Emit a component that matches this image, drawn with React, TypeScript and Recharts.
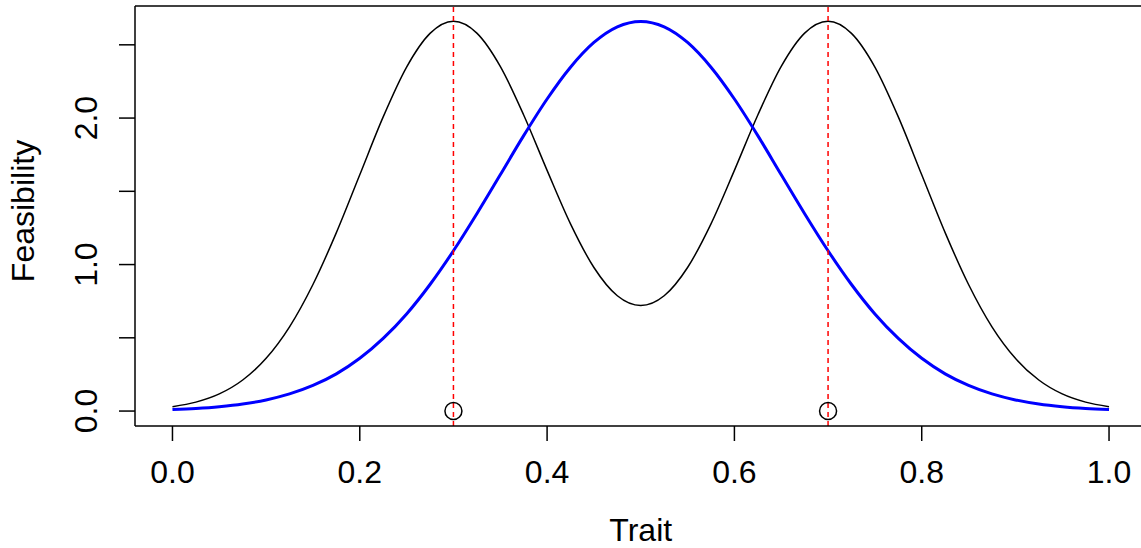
import { ComposedChart, Line, XAxis, YAxis, ReferenceLine, ReferenceDot } from 'recharts';

const FONT = '"Liberation Sans", Arial, Helvetica, sans-serif';

// trait grid
const trait = [
  0, 0.025, 0.05, 0.075, 0.1, 0.125, 0.15, 0.175, 0.2, 0.225,
  0.25, 0.275, 0.3, 0.325, 0.35, 0.375, 0.4, 0.425, 0.45, 0.475,
  0.5, 0.525, 0.55, 0.575, 0.6, 0.625, 0.65, 0.675, 0.7, 0.725,
  0.75, 0.775, 0.8, 0.825, 0.85, 0.875, 0.9, 0.925, 0.95, 0.975, 1,
];

// bimodal feasibility (black)
const bimodal = [
  0.030, 0.061, 0.117, 0.212, 0.360, 0.575, 0.864, 1.218, 1.613, 2.008,
  2.348, 2.578, 2.661, 2.580, 2.353, 2.021, 1.643, 1.278, 0.980, 0.787,
  0.720, 0.787, 0.980, 1.278, 1.643, 2.021, 2.353, 2.580, 2.661, 2.578,
  2.348, 2.008, 1.613, 1.218, 0.864, 0.575, 0.360, 0.212, 0.117, 0.061, 0.030,
];

// unimodal feasibility (blue)
const unimodal = [
  0.010, 0.018, 0.030, 0.048, 0.076, 0.117, 0.175, 0.254, 0.360, 0.496,
  0.663, 0.864, 1.094, 1.347, 1.613, 1.880, 2.130, 2.347, 2.516, 2.623,
  2.660, 2.623, 2.516, 2.347, 2.130, 1.880, 1.613, 1.347, 1.094, 0.864,
  0.663, 0.496, 0.360, 0.254, 0.175, 0.117, 0.076, 0.048, 0.030, 0.018, 0.010,
];

const optima = [0.3, 0.7];

const xTicks = [0, 0.2, 0.4, 0.6, 0.8, 1.0];
const yTicks = [0, 0.5, 1, 1.5, 2, 2.5];
const yLabelled = [0, 1, 2];

const X_DOMAIN: [number, number] = [-0.04, 1.04];
const Y_DOMAIN: [number, number] = [-0.102, 2.765];

const data = trait.map((t, i) => ({ trait: t, bimodal: bimodal[i], unimodal: unimodal[i] }));

const YTick = (props: any) => {
  const { x, y, payload } = props;
  if (!yLabelled.includes(payload.value)) return null;
  return (
    <text
      x={x}
      y={y}
      transform={`rotate(-90, ${x}, ${y})`}
      textAnchor="middle"
      fontSize={32}
      fontFamily={FONT}
      fill="#000"
    >
      {payload.value.toFixed(1)}
    </text>
  );
};

const YTitle = (props: any) => {
  const vb = props.viewBox || {};
  const cy = (vb.y ?? 6) + (vb.height ?? 420) / 2 - 5;
  const cx = 34;
  return (
    <text
      x={cx}
      y={cy}
      transform={`rotate(-90, ${cx}, ${cy})`}
      textAnchor="middle"
      fontSize={32}
      fontFamily={FONT}
      fill="#000"
    >
      Feasibility
    </text>
  );
};

export default function App() {
  return (
    <div style={{ position: 'absolute', left: 0, top: 0, width: 1141, height: 548, overflow: 'hidden', background: '#fff' }}>
      <ComposedChart
        width={1160}
        height={548}
        data={data}
        margin={{ top: 6, right: 13.5, left: 0, bottom: 0 }}
      >
        <XAxis
          dataKey="trait"
          type="number"
          domain={X_DOMAIN}
          ticks={xTicks}
          interval={0}
          allowDataOverflow
          height={122}
          tickSize={15}
          tickMargin={19}
          stroke="#000"
          strokeWidth={1.5}
          tick={{ fill: '#000', fontSize: 32, fontFamily: FONT }}
          tickFormatter={(v: number) => v.toFixed(1)}
          label={{ value: 'Trait', position: 'insideBottom', offset: 7, fill: '#000', fontSize: 32, fontFamily: FONT }}
        />
        <YAxis
          type="number"
          domain={Y_DOMAIN}
          ticks={yTicks}
          interval={0}
          allowDataOverflow
          width={135}
          tickSize={16}
          tickMargin={22}
          stroke="#000"
          strokeWidth={1.5}
          tick={<YTick />}
          label={{ content: <YTitle /> }}
        />
        <ReferenceLine y={Y_DOMAIN[1]} stroke="#000" strokeWidth={1.5} />
        <Line
          type="monotone"
          dataKey="bimodal"
          stroke="#000"
          strokeWidth={1.5}
          dot={false}
          isAnimationActive={false}
        />
        <Line
          type="monotone"
          dataKey="unimodal"
          stroke="#0000ff"
          strokeWidth={3}
          dot={false}
          isAnimationActive={false}
        />
        {optima.map((o) => (
          <ReferenceLine key={`v-${o}`} x={o} stroke="#ff0000" strokeWidth={1.5} strokeDasharray="5 4" />
        ))}
        {optima.map((o) => (
          <ReferenceDot key={`d-${o}`} x={o} y={0} r={8.5} fill="none" stroke="#000" strokeWidth={1.5} />
        ))}
      </ComposedChart>
    </div>
  );
}
